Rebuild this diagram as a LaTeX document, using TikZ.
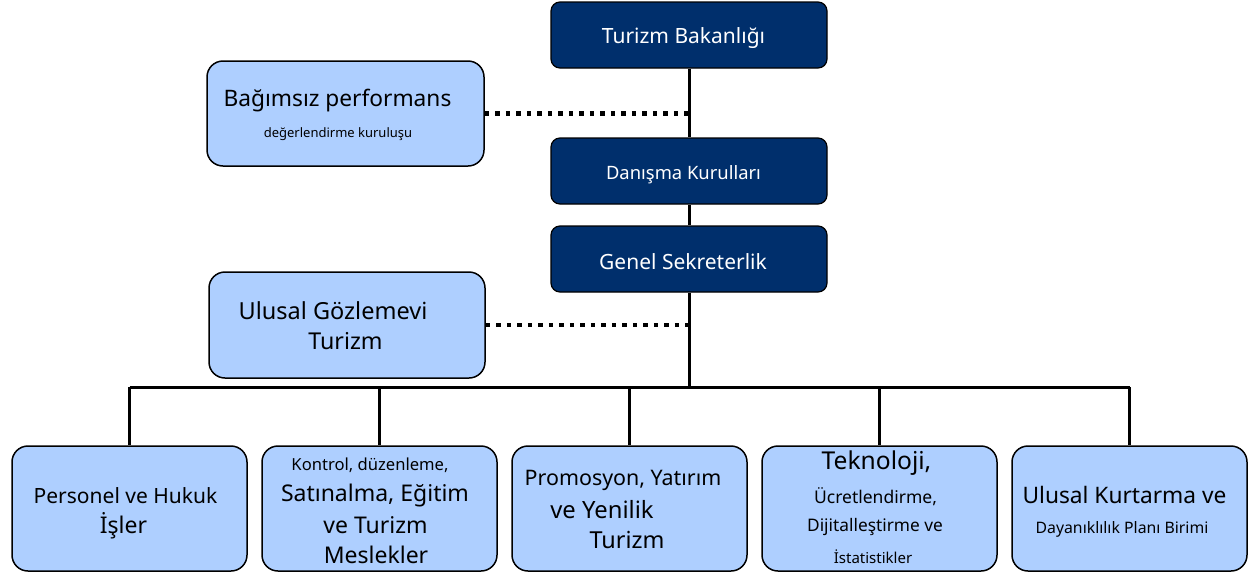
\documentclass[tikz,border=0pt]{standalone}
\usepackage{fontspec}
\setmainfont{Noto Sans}
\definecolor{navy}{RGB}{0,47,108}
\definecolor{lightb}{RGB}{174,207,255}
\begin{document}
\begin{tikzpicture}[x=1pt,y=-1pt,
  navybox/.style={draw=black,line width=1.2pt,fill=navy,rounded corners=9pt,minimum width=276pt,minimum height=66pt,inner sep=0pt},
  lightbox/.style={draw=black,line width=1.5pt,fill=lightb,rounded corners=16pt,inner sep=0pt},
  conn/.style={line width=3pt},
  dots/.style={line width=4.5pt,dash pattern=on 4.5pt off 6pt},
  txt/.style={inner sep=0pt,anchor=center}]
\useasboundingbox (0,0) rectangle (1252,579);
% top boxes
\node[navybox] (tb) at (689,35) {};
\node[navybox] (dk) at (689,171) {};
\node[navybox] (gs) at (689,259) {};
\node[txt,text=white,font=\fontsize{21}{24}\selectfont] (tbt) at (683.5,38) {Turizm Bakanlığı};
\node[txt,text=white,font=\fontsize{18.4}{22}\selectfont] (dkt) at (683.5,175) {Danışma Kurulları};
\node[txt,text=white,font=\fontsize{21}{24}\selectfont] (gst) at (683,262) {Genel Sekreterlik};
% side boxes
\node[lightbox,minimum width=277pt,minimum height=105pt] (bp) at (345.5,113.5) {};
\node[txt,font=\fontsize{22.7}{26}\selectfont] (bp1) at (337.5,101) {Bağımsız performans};
\node[txt,font=\fontsize{13}{16}\selectfont] (bp2) at (338,134) {değerlendirme kuruluşu};
\node[lightbox,minimum width=276pt,minimum height=106pt] (ug) at (347,325) {};
\node[txt,font=\fontsize{23.5}{27}\selectfont] (ug1) at (333,311) {Ulusal Gözlemevi};
\node[txt,font=\fontsize{23.2}{27}\selectfont] (ug2) at (345.5,341) {Turizm};
% bottom boxes
\foreach \i/\x in {1/129.5,2/379.5,3/629.5,4/879.5,5/1129.5}
  \node[lightbox,minimum width=235pt,minimum height=125pt] (b\i) at (\x,508.5) {};
\node[txt,font=\fontsize{21}{24}\selectfont] (b1a) at (125.5,496) {Personel ve Hukuk};
\node[txt,font=\fontsize{23}{27}\selectfont] (b1b) at (123.5,526) {İşler};
\node[txt,font=\fontsize{16.6}{20}\selectfont] (b2a) at (370,465) {Kontrol, düzenleme,};
\node[txt,font=\fontsize{23}{27}\selectfont] (b2b) at (375,496) {Satınalma, Eğitim};
\node[txt,font=\fontsize{23}{27}\selectfont] (b2c) at (375.5,525) {ve Turizm};
\node[txt,font=\fontsize{23}{27}\selectfont] (b2d) at (376,555) {Meslekler};
\node[txt,font=\fontsize{21.4}{25}\selectfont] (b3a) at (623,480) {Promosyon, Yatırım};
\node[txt,font=\fontsize{23.8}{27}\selectfont] (b3b) at (602,510) {ve Yenilik};
\node[txt,font=\fontsize{23.4}{27}\selectfont] (b3c) at (627,540) {Turizm};
\node[txt,font=\fontsize{24.6}{28}\selectfont] (b4a) at (876.5,463) {Teknoloji,};
\node[txt,font=\fontsize{17.5}{21}\selectfont] (b4b) at (875.5,497) {Ücretlendirme,};
\node[txt,font=\fontsize{17.3}{21}\selectfont] (b4c) at (875,527) {Dijitalleştirme ve};
\node[txt,font=\fontsize{15}{18}\selectfont] (b4d) at (873,557) {İstatistikler};
\node[txt,font=\fontsize{22.7}{26}\selectfont] (b5a) at (1124.5,495) {Ulusal Kurtarma ve};
\node[txt,font=\fontsize{15.8}{19}\selectfont] (b5b) at (1122,529) {Dayanıklılık Planı Birimi};
% connectors
\coordinate (hub) at (689,387);
\draw[conn] (tb.south) -- (dk.north);
\draw[conn] (dk.south) -- (gs.north);
\draw[conn] (gs.south) -- (hub);
\draw[conn] (b1.north |- hub) -- (b5.north |- hub);
\foreach \i in {1,...,5} \draw[conn] (b\i.north |- hub) -- (b\i.north);
\draw[dots] (bp.east) -- (bp.east -| tb.south);
\draw[dots] (ug.east) -- (ug.east -| tb.south);
\end{tikzpicture}
\end{document}
